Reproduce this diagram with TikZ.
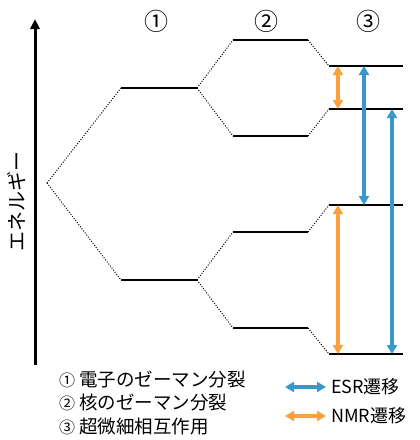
\documentclass[tikz,border=0pt]{standalone}
\usepackage{fontspec}
\setmainfont{Noto Sans CJK JP}
\usetikzlibrary{arrows.meta}
\definecolor{esrblue}{RGB}{56,152,204}
\definecolor{nmrorange}{RGB}{250,160,60}
\tikzset{
  level/.style={line width=2pt},
  conn/.style={line width=1pt, dash pattern=on 1pt off 1.6pt},
  esr/.style={esrblue, line width=3.2pt, {Triangle[width=10pt,length=9pt]}-{Triangle[width=10pt,length=9pt]}},
  nmr/.style={nmrorange, line width=3.2pt, {Triangle[width=10pt,length=9pt]}-{Triangle[width=10pt,length=9pt]}},
  lbl/.style={inner sep=0pt, font=\fontsize{20}{22}\selectfont},
  leg/.style={inner sep=0pt, font=\fontsize{18.5}{20}\selectfont},
  top/.style={inner sep=0pt, font=\fontsize{24}{26}\selectfont},
}
\begin{document}
\begin{tikzpicture}[x=1pt,y=-1pt]
\useasboundingbox (0,0) rectangle (420,440);
% axis
\coordinate (axB) at (35,365);
\coordinate (axT) at (35,19);
\draw[line width=3pt, -{Triangle[width=9pt,length=10pt]}] (axB) -- (axT);
\node[lbl, rotate=90] (en) at (17,201) {エネルギー};
% top labels
\node[top] (n1) at (156,21) {①};
\node[top] (n2) at (266,21) {②};
\node[top] (n3) at (368,21) {③};
% origin
\coordinate (O) at (47,183);
% level 1
\coordinate (a1l) at (121,88); \coordinate (a1r) at (197,88);
\coordinate (b1l) at (121,280); \coordinate (b1r) at (197,280);
% level 2
\coordinate (a2l) at (233,40);  \coordinate (a2r) at (308,40);
\coordinate (b2l) at (233,136); \coordinate (b2r) at (308,136);
\coordinate (c2l) at (233,232); \coordinate (c2r) at (308,232);
\coordinate (d2l) at (233,328); \coordinate (d2r) at (308,328);
% level 3
\coordinate (a3l) at (329,66);  \coordinate (a3r) at (403,66);
\coordinate (b3l) at (329,109); \coordinate (b3r) at (403,109);
\coordinate (c3l) at (329,205); \coordinate (c3r) at (403,205);
\coordinate (d3l) at (329,354); \coordinate (d3r) at (403,354);
% levels
\foreach \n in {a1,b1,a2,b2,c2,d2,a3,b3,c3,d3} \draw[level] (\n l) -- (\n r);
% connectors
\draw[conn] (O) -- (a1l);
\draw[conn] (O) -- (b1l);
\draw[conn] (a1r) -- (a2l);
\draw[conn] (a1r) -- (b2l);
\draw[conn] (b1r) -- (c2l);
\draw[conn] (b1r) -- (d2l);
\draw[conn] (a2r) -- (a3l);
\draw[conn] (b2r) -- (b3l);
\draw[conn] (c2r) -- (c3l);
\draw[conn] (d2r) -- (d3l);
% transitions
\coordinate (o1t) at (338,66);  \coordinate (o1b) at (338,109);
\coordinate (o2t) at (338,205); \coordinate (o2b) at (338,354);
\coordinate (e1t) at (364,66);  \coordinate (e1b) at (364,205);
\coordinate (e2t) at (392,109); \coordinate (e2b) at (392,354);
\draw[nmr] (o1t) -- (o1b);
\draw[nmr] (o2t) -- (o2b);
\draw[esr] (e1t) -- (e1b);
\draw[esr] (e2t) -- (e2b);
% legend
\node[leg, anchor=west] (l1) at (59,380) {{\fontsize{16}{18}\selectfont ①}\hspace{4pt}電子のゼーマン分裂};
\node[leg, anchor=west] (l2) at (59,403) {{\fontsize{16}{18}\selectfont ②}\hspace{4pt}核のゼーマン分裂};
\node[leg, anchor=west] (l3) at (59,427) {{\fontsize{16}{18}\selectfont ③}\hspace{4pt}超微細相互作用};
\coordinate (le1) at (285,387); \coordinate (le2) at (326,387);
\coordinate (ln1) at (285,416); \coordinate (ln2) at (326,416);
\draw[esr, line width=4.5pt] (le1) -- (le2);
\draw[nmr, line width=4.5pt] (ln1) -- (ln2);
\node[lbl, font=\fontsize{18}{20}\selectfont, anchor=west] (tE) at (331,387) {ESR遷移};
\node[lbl, font=\fontsize{18}{20}\selectfont, anchor=west] (tN) at (331,416) {NMR遷移};
\end{tikzpicture}
\end{document}
